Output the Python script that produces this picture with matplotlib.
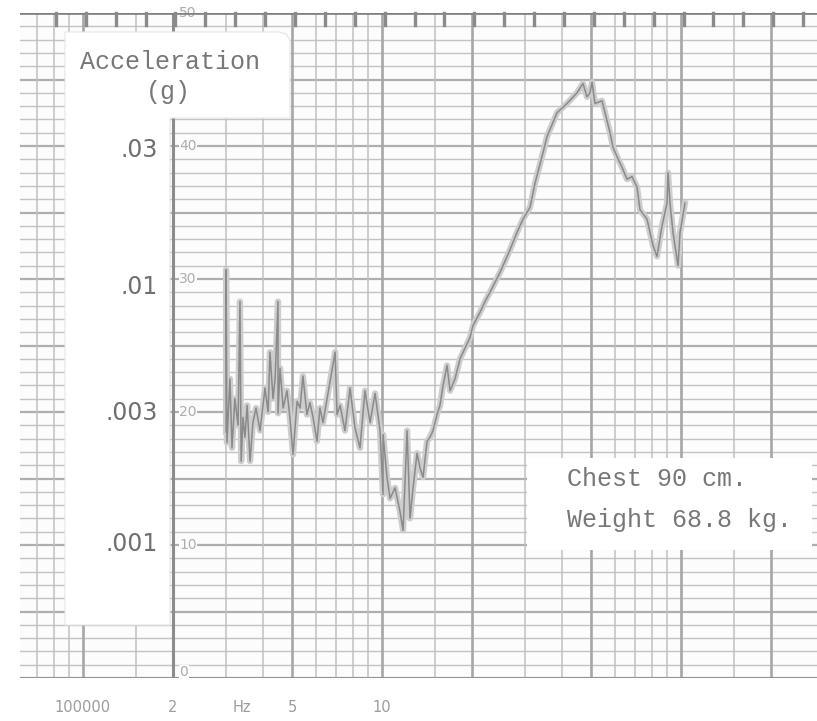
import numpy as np
import matplotlib.pyplot as plt
from matplotlib.patches import Polygon
from matplotlib.transforms import blended_transform_factory

W, H = 817, 721

# pen trace of the recorder: frequency (Hz) against level (paper scale, dB)
freq = [3.01, 3.01, 3.03, 3.10, 3.15, 3.22, 3.30, 3.35, 3.38, 3.43,
        3.48, 3.54, 3.62, 3.70, 3.79, 3.91, 4.00, 4.06, 4.16, 4.22,
        4.32, 4.39, 4.49, 4.49, 4.56, 4.67, 4.81, 4.92, 5.04, 5.20,
        5.32, 5.44, 5.61, 5.74, 5.88, 6.06, 6.20, 6.35, 6.55, 6.97,
        7.07, 7.24, 7.52, 7.82, 8.12, 8.44, 8.77, 9.12, 9.48, 9.85,
        10.08, 10.08, 10.39, 10.64, 11.06, 11.49, 11.76, 12.13, 12.41, 12.70,
        13.10, 13.40, 13.72, 14.15, 14.47, 14.81, 15.27, 15.63, 16.0, 16.50,
        16.89, 17.55, 18.24, 18.95, 19.69, 20.15, 21.28, 22.1, 22.97, 24.82,
        26.80, 28.28, 29.62, 31.27, 32.49, 34.56, 35.63, 38.49, 41.57, 44.90,
        47.0, 48.48, 49.62, 50.39, 51.56, 54.43, 56.57, 57.88, 59.24, 61.10,
        63.50, 65.98, 68.59, 71.27, 72.94, 76.98, 80.61, 83.14, 86.40, 89.79,
        90.48, 91.88, 94.02, 97.73, 99.27, 103.1]
level = [18.5, 30.7, 17.7, 22.5, 17.3, 21.0, 19.0, 28.3, 16.3, 19.6,
         18.1, 20.5, 16.3, 19.2, 20.3, 18.6, 20.5, 21.8, 20.0, 24.5,
         21.0, 22.5, 28.3, 19.9, 23.3, 20.3, 21.6, 19.6, 16.8, 20.8,
         20.3, 22.7, 19.8, 20.7, 19.6, 17.8, 20.3, 19.2, 21.0, 24.5,
         19.8, 20.5, 18.6, 21.8, 18.8, 17.3, 21.6, 19.2, 21.4, 18.6,
         13.8, 18.3, 15.1, 13.5, 14.3, 12.5, 11.1, 18.6, 12.0, 14.3,
         16.9, 15.8, 15.1, 17.8, 18.1, 18.6, 19.8, 20.5, 22.0, 23.5,
         21.6, 22.5, 24.0, 24.8, 25.6, 26.5, 27.5, 28.3, 29.0, 30.5,
         32.2, 33.5, 34.5, 35.4, 37.2, 39.5, 40.7, 42.5, 43.2, 44.0,
         44.7, 43.7, 44.0, 44.8, 43.2, 43.4, 41.9, 41.0, 39.9, 39.2,
         38.4, 37.5, 37.7, 36.9, 35.2, 34.5, 32.5, 31.7, 34.0, 35.7,
         38.0, 35.7, 33.5, 31.0, 33.5, 35.7]

accel_labels = ['.03', '.01', '.003', '.001']
accel_levels = [39.7, 29.4, 19.9, 10.1]

paper_levels = [0, 10, 20, 30, 40, 50]

freq_labels = ['100000', '2', 'Hz', '5', '10']
freq_label_pos = [1.0, 2.0, 3.4, 5.0, 10.0]

subject = ['Chest 90 cm.', 'Weight 68.8 kg.']

TYPE = 'Liberation Mono'
INK = '#777777'

fig = plt.figure(figsize=(W / 100, H / 100), dpi=100)
fig.patch.set_facecolor('white')

# paper area spans x 20..817 px, y 13..678 px
ax = fig.add_axes([20 / W, 1 - 678 / H, 797 / W, 665 / H])
ax.set_xscale('log')
ax.set_xlim(0.6156, 285)
ax.set_ylim(0, 50)
ax.set_facecolor('#fcfcfc')
for s in ax.spines.values():
    s.set_visible(False)
ax.set_xticks([])
ax.set_xticks([], minor=True)
ax.set_yticks([])


def to_ax(px, py):
    return ((px - 20) / 797, (678 - py) / 665)


# chart paper grid
for v in range(0, 51):
    heavy = v % 5 == 0
    ax.axhline(v, color='#aeaeae' if heavy else '#c3c3c3',
               lw=1.6 if heavy else 1.0, zorder=1)

grid_f = [m * 10.0 ** e for e in (-1, 0, 1, 2)
          for m in (1, 1.5, 2, 3, 4, 5, 6, 7, 8, 9)]
for f in grid_f:
    if not 0.62 < f < 285:
        continue
    lead = round(f / 10 ** np.floor(np.log10(f)), 2)
    heavy = lead in (1, 2, 5)
    ax.axvline(f, color='#a6a6a6' if heavy else '#c0c0c0',
               lw=1.9 if heavy else 1.1, zorder=1)

ax.axhline(0, color='#8c8c8c', lw=1.8, zorder=2)
ax.axvline(2, color='#8c8c8c', lw=2.2, zorder=2)
ax.axhline(50, color='#7f7f7f', lw=2.6, zorder=6)

# timing marks along the top edge
for xa in np.arange(0.045, 0.99, 0.0375):
    ax.plot([xa, xa], [1.0, 0.982], transform=ax.transAxes,
            color='#8a8a8a', lw=2.4, zorder=6, clip_on=False)

# paper scale numbers next to the 2 Hz line
for v in paper_levels:
    ax.text(2.1, v + (0.45 if v == 0 else 0), str(v), fontsize=10,
            color='#adadad', va='center', ha='left', zorder=3,
            bbox=dict(facecolor='#fcfcfc', edgecolor='none', pad=0.3))

# the trace, smeared ink underneath a thinner pen line
ax.plot(freq, level, color='#cdcdcd', lw=4.5, solid_joinstyle='round', zorder=3)
ax.plot(freq, level, color='#8a8a8a', lw=1.1, solid_joinstyle='round', zorder=4)

# pasted label card on the left
card = [(65, 32), (279, 32), (286, 34), (290, 40), (290, 118),
        (170, 118), (170, 625), (65, 625)]
ax.add_patch(Polygon([to_ax(*p) for p in card], closed=True,
                     transform=ax.transAxes, facecolor='white',
                     edgecolor='#e6e6e6', lw=0.8, zorder=5, clip_on=False))

ax.text(*to_ax(170, 62), 'Acceleration', family=TYPE, fontsize=18,
        color=INK, ha='center', va='center', transform=ax.transAxes, zorder=7)
ax.text(*to_ax(168, 92), '(g)', family=TYPE, fontsize=18,
        color=INK, ha='center', va='center', transform=ax.transAxes, zorder=7)

ylab_tr = blended_transform_factory(ax.transAxes, ax.transData)
for lab, v in zip(accel_labels, accel_levels):
    ax.text(to_ax(158, 0)[0], v, lab, fontsize=17, color='#6f6f6f',
            ha='right', va='center', transform=ylab_tr, zorder=7)

# subject card
box = [(527, 458), (812, 458), (812, 550), (527, 550)]
ax.add_patch(Polygon([to_ax(*p) for p in box], closed=True,
                     transform=ax.transAxes, facecolor='white',
                     edgecolor='none', zorder=5, clip_on=False))
for line, py in zip(subject, (479, 520)):
    ax.text(*to_ax(567, py), line, family=TYPE, fontsize=18, color=INK,
            ha='left', va='center', transform=ax.transAxes, zorder=7)

# frequency scale printed under the paper
xlab_tr = blended_transform_factory(ax.transData, ax.transAxes)
for lab, f in zip(freq_labels, freq_label_pos):
    ax.text(f, -0.045, lab, fontsize=10.5, color='#9c9c9c',
            ha='center', va='center', transform=xlab_tr, clip_on=False)

fig.savefig('out.png', dpi=100, facecolor='white')
